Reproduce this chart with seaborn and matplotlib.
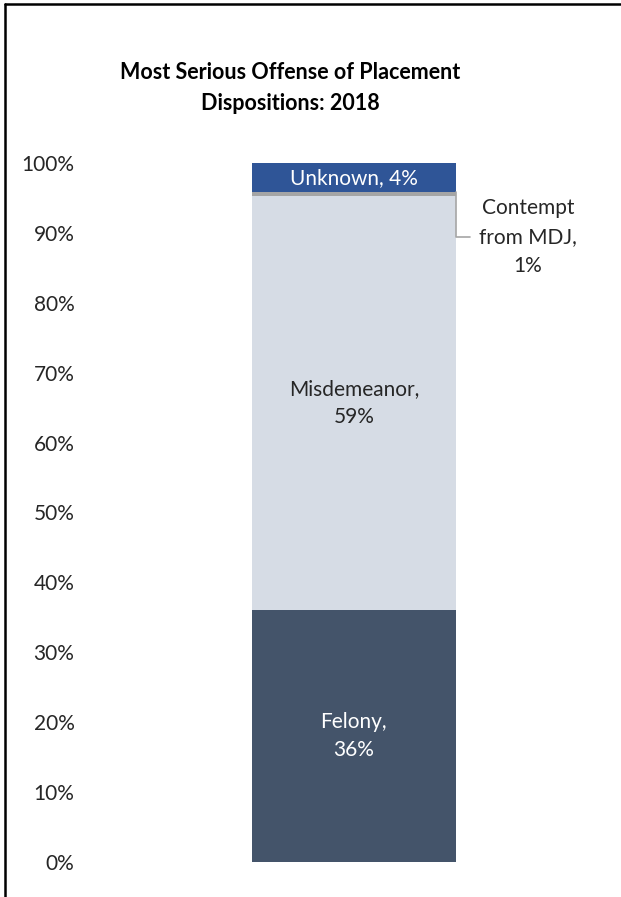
import numpy as np
import pandas as pd
import matplotlib
matplotlib.use("Agg")
import matplotlib.pyplot as plt
from matplotlib.lines import Line2D
import seaborn as sns

categories = ["Felony", "Misdemeanor", "Contempt from MDJ", "Unknown"]
shares = [36.0, 59.3, 0.5, 4.2]
labels = ["Felony,\n36%", "Misdemeanor,\n59%", "Contempt\nfrom MDJ,\n1%", "Unknown, 4%"]
colors = ["#44546A", "#D6DCE5", "#A5A5A5", "#2F5597"]
text_colors = ["white", "#262626", "#262626", "white"]
yticks = list(range(0, 101, 10))
title = "Most Serious Offense of Placement\nDispositions: 2018"

df = pd.DataFrame({"category": categories, "share": shares})
df["top"] = df["share"].cumsum()
df["mid"] = df["top"] - df["share"] / 2
df["bar"] = "2018"

sns.set_style("white")
plt.rcParams["font.family"] = ["Lato", "DejaVu Sans"]

fig = plt.figure(figsize=(6.21, 8.97), dpi=100)
ax = fig.add_axes([80 / 621, 35 / 897, 530 / 621, 699 / 897])

# stack: draw cumulative totals from the top segment down
for i in reversed(range(len(df))):
    sns.barplot(data=df.iloc[[i]], x="bar", y="top", color=colors[i], width=0.4,
                saturation=1, errorbar=None, edgecolor="none", linewidth=0, ax=ax)

for i in [0, 1, 3]:
    ax.text(0, df["mid"][i], labels[i], ha="center", va="center", color=text_colors[i],
            fontsize=15, linespacing=1.5)

ax.annotate(labels[2], xy=(0.2, df["top"][2]), xytext=(0.341, 89.4),
            ha="center", va="center", color=text_colors[2], fontsize=15, linespacing=1.55,
            arrowprops=dict(arrowstyle="-", color="#A6A6A6", lw=1.2, shrinkA=4, shrinkB=0,
                            connectionstyle="angle,angleA=0,angleB=90,rad=0"))

ax.set_xlim(-0.537, 0.502)
ax.set_ylim(0, 100)
ax.set_yticks(yticks)
ax.set_yticklabels([f"{t}%" for t in yticks])
ax.set_xticks([])
ax.set_xlabel("")
ax.set_ylabel("")
ax.tick_params(axis="y", length=0, pad=4, labelsize=15, labelcolor="#262626")
for s in ax.spines.values():
    s.set_visible(False)

fig.text(290 / 621, 1 - 88 / 897, title, ha="center", va="center", fontweight="bold",
         fontsize=15.5, linespacing=1.55, color="black")

# chart frame: only top and left edges show in the crop
fig.add_artist(Line2D([5 / 621, 1], [1 - 4 / 897, 1 - 4 / 897], transform=fig.transFigure,
                      color="black", lw=1.8))
fig.add_artist(Line2D([5 / 621, 5 / 621], [0, 1 - 4 / 897], transform=fig.transFigure,
                      color="black", lw=1.8))

fig.savefig("out.png", dpi=100)
